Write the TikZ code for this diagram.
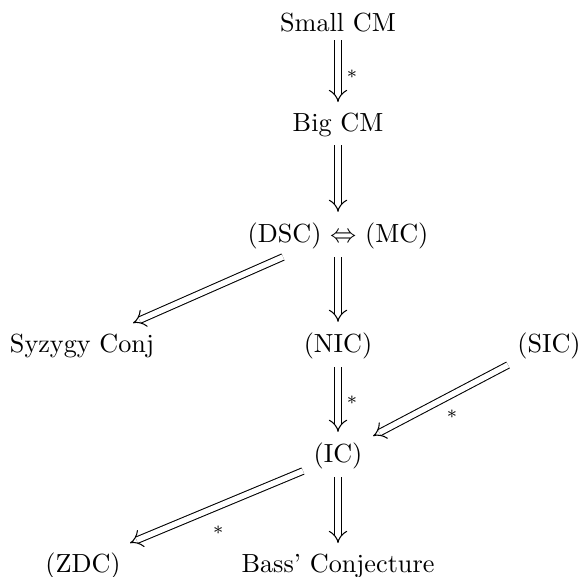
\documentclass[tikz,border=0pt]{standalone}
\usetikzlibrary{arrows.meta,calc}
\begin{document}
\begin{tikzpicture}[x=0.3817pt,y=-0.3817pt,
  lbl/.style={anchor=base,inner sep=0pt,outer sep=0pt},
  impl/.style={double,double distance=2.1pt,line width=0.4pt,-{Implies}},
  vimpl/.style={impl,shorten <=3.4pt,shorten >=4pt},
  star/.style={font=\scriptsize,inner sep=0pt,anchor=center}]
\useasboundingbox (0,0) rectangle (582,576);
\node[lbl] (scm) at (338,31) {Small CM};
\node[lbl] (bcm) at (338,131) {Big CM};
\node[lbl] (dm)  at (338,242) {(DSC) $\Leftrightarrow$ (MC)};
\node[lbl] (syz) at (82,352) {Syzygy Conj};
\node[lbl] (nic) at (338,352) {(NIC)};
\node[lbl] (sic) at (549,352) {(SIC)};
\node[lbl] (ic)  at (338,462) {(IC)};
\node[lbl] (zdc) at (83,572) {(ZDC)};
\node[lbl] (bass) at (338,572) {Bass' Conjecture};
\draw[vimpl] (scm.south) -- (bcm.north) node[pos=0.5,star,xshift=5.3pt,yshift=-1pt] {$*$};
\draw[vimpl] (bcm.south) -- (dm.north);
\draw[vimpl] (dm.south) -- (nic.north);
\draw[impl] ($(dm.base)+(-55,15)$) -- ($(syz.base)+(51,-29)$);
\draw[vimpl] (nic.south) -- (ic.north) node[pos=0.5,star,xshift=5.3pt] {$*$};
\draw[impl] ($(sic.base)+(-41,13)$) -- ($(ic.base)+(35,-26)$) node[pos=0.415,star,yshift=-7.4pt] {$*$};
\draw[impl] ($(ic.base)+(-35,9)$) -- ($(zdc.base)+(47,-29)$) node[pos=0.49,star,yshift=-9pt] {$*$};
\draw[vimpl] (ic.south) -- (bass.north);
\end{tikzpicture}
\end{document}
